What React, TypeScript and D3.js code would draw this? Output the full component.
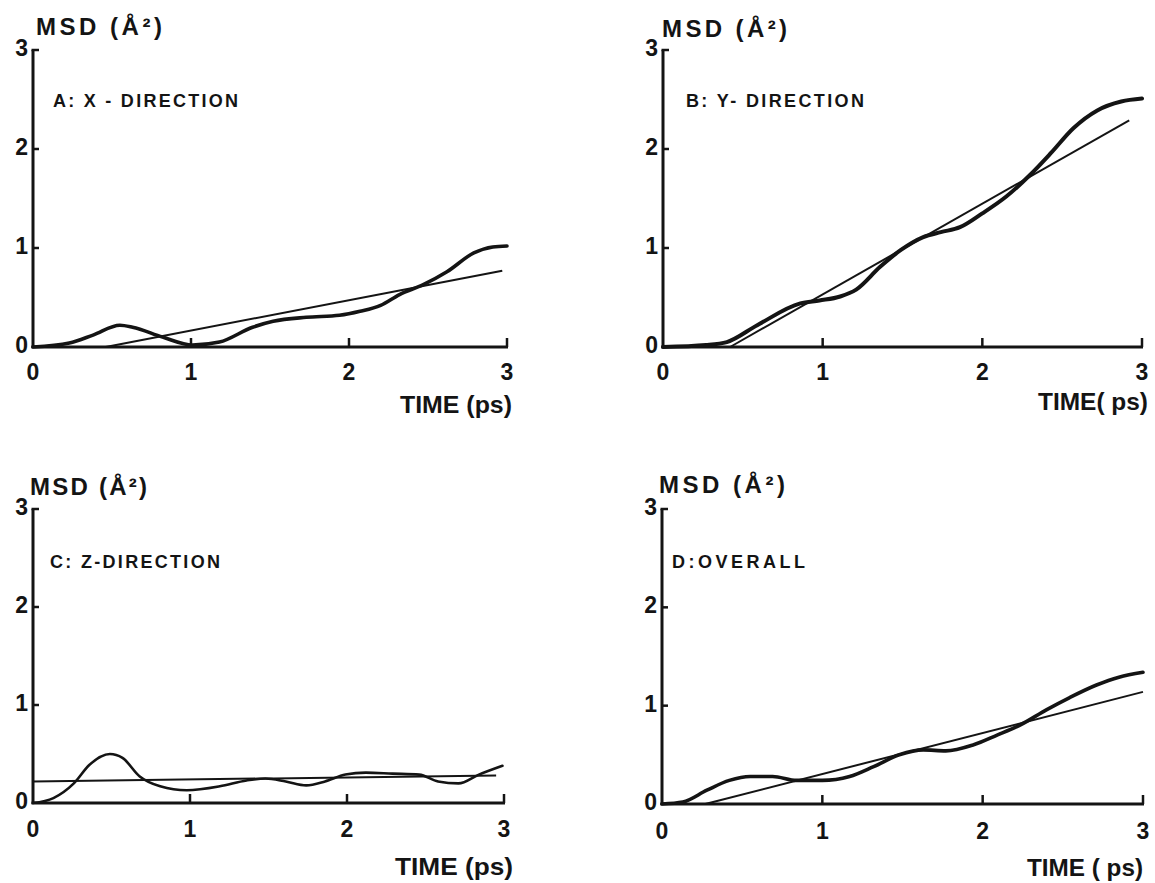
import React from 'react';
import * as d3 from 'd3';

// ---- data ----
const timeTicks = [0, 1, 2, 3];
const msdTicks = [0, 1, 2, 3];

// A: X-direction
const xDirTime = [0, 0.23, 0.38, 0.55, 0.63, 0.82, 1.01, 1.18, 1.39, 1.52, 1.73, 1.94, 2.07, 2.2, 2.32, 2.47, 2.62, 2.79, 2.91, 3.0];
const xDirMsd = [0, 0.04, 0.12, 0.22, 0.2, 0.1, 0.02, 0.05, 0.2, 0.26, 0.3, 0.32, 0.36, 0.42, 0.53, 0.63, 0.76, 0.95, 1.01, 1.02];
const xFitTime = [0.46, 2.97];
const xFitMsd = [0, 0.77];

// B: Y-direction
const yDirTime = [0, 0.27, 0.4, 0.59, 0.86, 0.98, 1.11, 1.21, 1.36, 1.49, 1.63, 1.74, 1.86, 2.0, 2.15, 2.3, 2.43, 2.57, 2.72, 2.87, 3.0];
const yDirMsd = [0, 0.02, 0.05, 0.22, 0.44, 0.47, 0.51, 0.58, 0.81, 0.98, 1.11, 1.16, 1.21, 1.35, 1.52, 1.74, 1.96, 2.21, 2.39, 2.48, 2.51];
const yFitTime = [0.42, 2.92];
const yFitMsd = [0, 2.29];

// C: Z-direction
const zDirTime = [0, 0.13, 0.26, 0.36, 0.49, 0.57, 0.68, 0.81, 0.98, 1.19, 1.36, 1.48, 1.61, 1.74, 1.86, 1.99, 2.12, 2.29, 2.46, 2.58, 2.71, 2.84, 2.99];
const zDirMsd = [0, 0.05, 0.2, 0.39, 0.5, 0.46, 0.27, 0.17, 0.13, 0.17, 0.23, 0.25, 0.22, 0.18, 0.22, 0.29, 0.31, 0.3, 0.29, 0.22, 0.2, 0.29, 0.38];
const zFitTime = [0, 2.95];
const zFitMsd = [0.22, 0.28];

// D: overall
const allTime = [0, 0.13, 0.28, 0.42, 0.55, 0.69, 0.84, 1.0, 1.17, 1.32, 1.48, 1.63, 1.77, 1.94, 2.09, 2.23, 2.4, 2.54, 2.71, 2.85, 3.0];
const allMsd = [0, 0.02, 0.14, 0.24, 0.28, 0.28, 0.24, 0.24, 0.28, 0.38, 0.5, 0.55, 0.54, 0.6, 0.7, 0.8, 0.96, 1.08, 1.21, 1.29, 1.34];
const allFitTime = [0.27, 3.0];
const allFitMsd = [0, 1.14];

const panelTitles = ['A: X - DIRECTION', 'B: Y- DIRECTION', 'C: Z-DIRECTION', 'D:OVERALL'];
const yAxisTitle = 'MSD (Å²)';
const xAxisTitles = ['TIME (ps)', 'TIME( ps)', 'TIME (ps)', 'TIME ( ps)'];

const zip = (a: number[], b: number[]) => a.map((t, i) => [t, b[i]] as [number, number]);

const series = [
  { curve: zip(xDirTime, xDirMsd), fit: zip(xFitTime, xFitMsd), cw: 3.6 },
  { curve: zip(yDirTime, yDirMsd), fit: zip(yFitTime, yFitMsd), cw: 4 },
  { curve: zip(zDirTime, zDirMsd), fit: zip(zFitTime, zFitMsd), cw: 2.6 },
  { curve: zip(allTime, allMsd), fit: zip(allFitTime, allFitMsd), cw: 3.6 },
];

// ---- layout ----
const layout = [
  { x0: 33, x1: 507, y0: 347, y1: 50, msd: [36, 35, 126], ttl: [53, 107, 185], time: [400, 413, 112], tickDy: 33 },
  { x0: 663, x1: 1142, y0: 347, y1: 50, msd: [662, 37, 125], ttl: [686, 107, 178], time: [1038, 410, 110], tickDy: 33 },
  { x0: 33, x1: 504, y0: 803, y1: 509, msd: [30, 495, 117], ttl: [50, 568, 170], time: [395, 875, 118], tickDy: 34 },
  { x0: 662, x1: 1143, y0: 804, y1: 509, msd: [659, 493, 126], ttl: [672, 568, 133], time: [1027, 876, 116], tickDy: 35 },
];

const INK = '#141414';
const FONT = '"Liberation Sans", Arial, sans-serif';

function Panel({ i }: { i: number }) {
  const L = layout[i];
  const S = series[i];
  const x = d3.scaleLinear().domain([0, 3]).range([L.x0, L.x1]);
  const y = d3.scaleLinear().domain([0, 3]).range([L.y0, L.y1]);
  const curveGen = d3
    .line<[number, number]>()
    .x((d) => x(d[0]))
    .y((d) => y(d[1]))
    .curve(d3.curveMonotoneX);
  const fitGen = d3
    .line<[number, number]>()
    .x((d) => x(d[0]))
    .y((d) => y(d[1]));

  return (
    <g>
      {/* axes */}
      <line x1={x(0)} y1={y(0) + 1} x2={x(0)} y2={y(3)} stroke={INK} strokeWidth={3} />
      <line x1={x(0) - 1.5} y1={y(3)} x2={x(0) + 6} y2={y(3)} stroke={INK} strokeWidth={2.5} />
      {msdTicks
        .filter((v) => v > 0 && v < 3)
        .map((v) => (
          <line key={'yt' + v} x1={x(0)} y1={y(v)} x2={x(0) + 6} y2={y(v)} stroke={INK} strokeWidth={2.5} />
        ))}
      <line x1={x(0) - 1.5} y1={y(0)} x2={x(3) + 1} y2={y(0)} stroke={INK} strokeWidth={3} />
      {timeTicks
        .filter((t) => t > 0)
        .map((t) => (
          <line key={'xt' + t} x1={x(t)} y1={y(0)} x2={x(t)} y2={y(0) - 9} stroke={INK} strokeWidth={2.5} />
        ))}
      {/* tick labels */}
      {msdTicks.map((v) => (
        <text
          key={'yl' + v}
          x={x(0) - 5}
          y={y(v) + 6}
          textAnchor="end"
          fontFamily={FONT}
          fontWeight="bold"
          fontSize={23}
          fill={INK}
        >
          {v}
        </text>
      ))}
      {timeTicks.map((t) => (
        <text
          key={'xl' + t}
          x={x(t)}
          y={y(0) + L.tickDy}
          textAnchor="middle"
          fontFamily={FONT}
          fontWeight="bold"
          fontSize={23}
          fill={INK}
        >
          {t}
        </text>
      ))}
      {/* titles */}
      <text
        x={L.msd[0]}
        y={L.msd[1]}
        fontFamily={FONT}
        fontWeight="bold"
        fontSize={24}
        fill={INK}
        textLength={L.msd[2]}
        lengthAdjust="spacing"
      >
        {yAxisTitle}
      </text>
      <text
        x={L.ttl[0]}
        y={L.ttl[1]}
        fontFamily={FONT}
        fontWeight="bold"
        fontSize={18}
        fill={INK}
        textLength={L.ttl[2]}
        lengthAdjust="spacing"
      >
        {panelTitles[i]}
      </text>
      <text
        x={L.time[0]}
        y={L.time[1]}
        fontFamily={FONT}
        fontWeight="bold"
        fontSize={24}
        fill={INK}
        textLength={L.time[2]}
        lengthAdjust="spacingAndGlyphs"
      >
        {xAxisTitles[i]}
      </text>
      {/* data */}
      <path d={fitGen(S.fit) || ''} fill="none" stroke={INK} strokeWidth={2} />
      <path d={curveGen(S.curve) || ''} fill="none" stroke={INK} strokeWidth={S.cw} strokeLinejoin="round" strokeLinecap="round" />
    </g>
  );
}

export default function App() {
  return (
    <svg
      width={1155}
      height={883}
      viewBox="0 0 1155 883"
      style={{ position: 'absolute', left: 0, top: 0, background: '#fff' }}
    >
      <rect x={0} y={0} width={1155} height={883} fill="#fff" />
      {[0, 1, 2, 3].map((i) => (
        <Panel key={i} i={i} />
      ))}
    </svg>
  );
}
